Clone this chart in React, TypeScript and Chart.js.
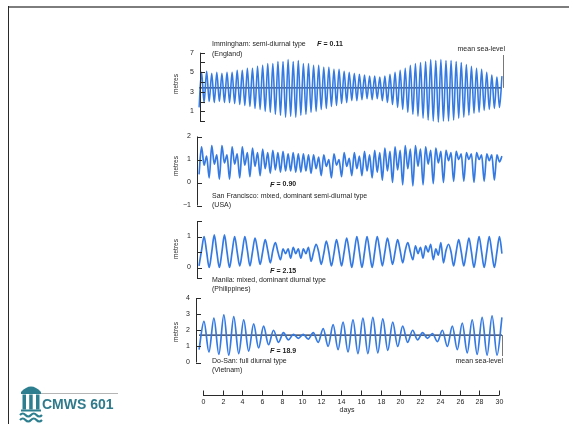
import React, { useEffect, useRef } from 'react';
import { Chart, registerables } from 'chart.js';

Chart.register(...registerables);

// ---------------- data ----------------
// Immingham: successive low / high waters (m)
const immLow = [
  1.4, 1.9, 2.0, 1.9, 2.0, 1.9, 1.9, 1.8, 1.7, 1.6, 1.5, 1.3, 1.2, 1.0, 0.9, 0.7, 0.6, 0.4, 0.5, 0.4,
  0.6, 0.7, 0.9, 1.0, 1.2, 1.3, 1.5, 1.6, 1.8, 1.9, 2.1, 2.1, 2.2, 2.3, 2.2, 2.3, 2.1, 1.9, 1.7, 1.4,
  1.2, 0.9, 0.7, 0.5, 0.3, 0.1, 0.0, -0.1, 0.0, 0.0, 0.1, 0.3, 0.4, 0.6, 0.8, 0.9, 1.1, 1.2, 1.3, 1.4,
];
const immHigh = [
  5.0, 5.1, 4.9, 5.0, 4.9, 5.0, 5.0, 5.2, 5.2, 5.4, 5.4, 5.6, 5.7, 5.9, 5.9, 6.1, 6.1, 6.3, 6.1, 6.2,
  5.9, 5.9, 5.7, 5.7, 5.5, 5.5, 5.3, 5.3, 5.1, 5.0, 4.9, 4.8, 4.7, 4.6, 4.6, 4.5, 4.6, 4.8, 5.0, 5.2,
  5.4, 5.7, 5.9, 6.0, 6.1, 6.3, 6.2, 6.3, 6.2, 6.2, 6.1, 6.0, 5.8, 5.6, 5.4, 5.3, 5.0, 4.7, 4.5, 4.6,
];
const immMean = 3.4;
const immTicks = [0, 1, 2, 3, 4, 5, 6, 7];
const immTickLabels = [1, 3, 5, 7];

// San Francisco: lower low, higher high, higher low, lower high per tidal day (m)
const sfLowerLow = [
  0.35, 0.2, 0.15, 0.15, 0.2, 0.25, 0.3, 0.4, 0.45, 0.5, 0.45, 0.4, 0.3, 0.2, 0.25,
  0.3, 0.3, 0.2, 0.1, 0.0, -0.1, -0.15, -0.1, -0.05, 0.0, 0.05, 0.05, 0.0, 0.05, 0.1,
];
const sfHigherHigh = [
  1.55, 1.6, 1.6, 1.55, 1.55, 1.5, 1.45, 1.4, 1.35, 1.3, 1.25, 1.2, 1.2, 1.25, 1.3,
  1.3, 1.35, 1.4, 1.5, 1.55, 1.6, 1.6, 1.55, 1.5, 1.4, 1.35, 1.3, 1.3, 1.25, 1.2,
];
const sfHigherLow = [
  0.75, 0.8, 0.85, 0.8, 0.75, 0.7, 0.6, 0.55, 0.5, 0.45, 0.5, 0.6, 0.7, 0.75, 0.7,
  0.6, 0.5, 0.45, 0.5, 0.55, 0.6, 0.7, 0.8, 0.85, 0.95, 1.0, 1.0, 1.0, 0.95, 0.9,
];
const sfLowerHigh = [
  1.15, 1.2, 1.2, 1.25, 1.3, 1.3, 1.3, 1.3, 1.25, 1.25, 1.2, 1.1, 1.0, 1.0, 1.05,
  1.15, 1.2, 1.3, 1.35, 1.4, 1.45, 1.45, 1.4, 1.35, 1.3, 1.25, 1.25, 1.2, 1.2, 1.15,
];
const sfTicks = [-1, 0, 1, 2];
const sfTickLabels = [-1, 0, 1, 2];

// Manila: four readings per tidal day (m)
const mnLowWater = [
  0.05, 0.0, 0.0, 0.0, 0.05, 0.05, 0.1, 0.15, 0.25, 0.3, 0.3, 0.2, 0.1, 0.05, 0.05,
  0.0, 0.0, 0.0, 0.05, 0.1, 0.15, 0.25, 0.3, 0.25, 0.15, 0.05, 0.05, 0.0, 0.0, 0.0,
];
const mnRising = [
  0.55, 0.5, 0.5, 0.5, 0.5, 0.5, 0.5, 0.55, 0.6, 0.65, 0.6, 0.5, 0.45, 0.45, 0.5,
  0.5, 0.5, 0.5, 0.5, 0.5, 0.55, 0.7, 0.7, 0.6, 0.55, 0.5, 0.5, 0.5, 0.5, 0.5,
];
const mnHighWater = [
  1.0, 1.05, 1.05, 1.0, 1.0, 0.95, 0.9, 0.8, 0.45, 0.45, 0.45, 0.75, 0.85, 0.9, 0.95,
  1.0, 1.0, 1.0, 0.95, 0.9, 0.8, 0.45, 0.5, 0.4, 0.75, 0.9, 0.95, 1.0, 1.0, 1.0,
];
const mnFalling = [
  0.5, 0.5, 0.5, 0.5, 0.55, 0.55, 0.55, 0.5, 0.6, 0.6, 0.65, 0.5, 0.5, 0.5, 0.5,
  0.5, 0.5, 0.55, 0.55, 0.55, 0.5, 0.65, 0.75, 0.8, 0.5, 0.5, 0.5, 0.5, 0.5, 0.45,
];
const mnTicks = [-0.35, 0, 0.5, 1, 1.5];
const mnTickLabels = [0, 1];

// Do-San: successive low / high waters (m)
const dsLow = [
  0.8, 0.65, 0.5, 0.45, 0.55, 0.7, 0.9, 1.1, 1.25, 1.4, 1.5, 1.45, 1.25, 1.0, 0.8, 0.65,
  0.55, 0.55, 0.6, 0.75, 1.0, 1.25, 1.4, 1.5, 1.3, 1.0, 0.8, 0.6, 0.5, 0.45, 0.45,
];
const dsHigh = [
  2.55, 2.75, 2.95, 2.85, 2.65, 2.4, 2.25, 2.0, 1.85, 1.75, 1.75, 1.85, 2.1, 2.35, 2.5, 2.65,
  2.75, 2.8, 2.7, 2.5, 2.25, 2.0, 1.85, 1.8, 2.0, 2.25, 2.45, 2.65, 2.8, 2.9, 2.8,
];
const dsMean = 1.7;
const dsTicks = [0, 1, 2, 3, 4];
const dsTickLabels = [0, 1, 2, 3, 4];

const dayTicks = [0, 2, 4, 6, 8, 10, 12, 14, 16, 18, 20, 22, 24, 26, 28, 30];

// ---------------- layout ----------------
const W = 569;
const H = 424;
const AREA = { left: 199, right: 502, top: 40, bottom: 400 };
const DAY0_PX = 203;
const DAY30_PX = 499;
const dayScale = (DAY30_PX - DAY0_PX) / 30;
const dayMin = -(DAY0_PX - AREA.left) / dayScale;
const dayMax = 30 + (AREA.right - DAY30_PX) / dayScale;

const PANELS = [
  { id: 'y1', vTop: 7, pTop: 52.7, vBot: 0, pBot: 121.1, axisX: 200, axisTop: 7, axisBot: 0, ticks: immTicks, labels: immTickLabels, metresY: 84 },
  { id: 'y2', vTop: 2, pTop: 136.5, vBot: -1, pBot: 205.5, axisX: 197, axisTop: 2, axisBot: -1, ticks: sfTicks, labels: sfTickLabels, metresY: 166 },
  { id: 'y3', vTop: 1, pTop: 236.5, vBot: 0, pBot: 267.5, axisX: 197, axisTop: 1.5, axisBot: -0.35, ticks: mnTicks, labels: mnTickLabels, metresY: 249 },
  { id: 'y4', vTop: 4, pTop: 298, vBot: 0, pBot: 362.5, axisX: 196, axisTop: 4, axisBot: 0, ticks: dsTicks, labels: dsTickLabels, metresY: 332 },
];

function yRange(p: any) {
  const s = (p.pBot - p.pTop) / (p.vTop - p.vBot);
  return { min: p.vBot - (AREA.bottom - p.pBot) / s, max: p.vTop + (p.pTop - AREA.top) / s };
}

const FONT = '"Liberation Sans", Arial, sans-serif';
const INK = '#1e1e1e';
const CURVE = 'rgb(52,122,226)';

const figPlugin = {
  id: 'figDecor',
  afterDatasetsDraw(chart: any) {
    const ctx: CanvasRenderingContext2D = chart.ctx;
    ctx.save();
    const seg = (x1: number, y1: number, x2: number, y2: number) => {
      ctx.beginPath();
      ctx.moveTo(x1, y1);
      ctx.lineTo(x2, y2);
      ctx.stroke();
    };
    ctx.strokeStyle = '#2a2a2a';
    ctx.fillStyle = INK;
    ctx.lineWidth = 1;

    // vertical axes
    PANELS.forEach((p) => {
      const sc = chart.scales[p.id];
      const yT = sc.getPixelForValue(p.axisTop);
      const yB = sc.getPixelForValue(p.axisBot);
      seg(p.axisX + 0.5, yT, p.axisX + 0.5, yB);
      p.ticks.forEach((t: number) => {
        const y = Math.round(sc.getPixelForValue(t)) + 0.5;
        seg(p.axisX, y, p.axisX + 5, y);
      });
      ctx.font = `7px ${FONT}`;
      ctx.textAlign = 'right';
      ctx.textBaseline = 'middle';
      p.labels.forEach((t: number) => {
        const y = sc.getPixelForValue(t);
        ctx.fillText(t < 0 ? '\u2212' + Math.abs(t) : String(t), p.axisX - 6, y);
      });
      ctx.save();
      ctx.translate(176, p.metresY);
      ctx.rotate(-Math.PI / 2);
      ctx.textAlign = 'center';
      ctx.font = `6.5px ${FONT}`;
      ctx.fillText('metres', 0, 0);
      ctx.restore();
    });

    // days axis
    const xd = chart.scales.xd;
    const axY = 395.5;
    seg(xd.getPixelForValue(0), axY, xd.getPixelForValue(30), axY);
    ctx.font = `7px ${FONT}`;
    ctx.textAlign = 'center';
    ctx.textBaseline = 'middle';
    dayTicks.forEach((d) => {
      const x = Math.round(xd.getPixelForValue(d)) + 0.5;
      seg(x, axY - 5, x, axY);
      ctx.fillText(String(d), x, 402);
    });
    ctx.fillText('days', 347, 410);

    // annotations
    const txt = (s: string, x: number, y: number, align: CanvasTextAlign = 'left') => {
      ctx.font = `7px ${FONT}`;
      ctx.textAlign = align;
      ctx.fillText(s, x, y);
    };
    const fTxt = (val: string, x: number, y: number) => {
      ctx.textAlign = 'left';
      ctx.font = `italic bold 7.5px ${FONT}`;
      ctx.fillText('F', x, y);
      const w = ctx.measureText('F').width;
      ctx.font = `bold 7px ${FONT}`;
      ctx.fillText(' = ' + val, x + w, y);
    };
    txt('Immingham: semi-diurnal type', 212, 44);
    fTxt('0.11', 317, 44);
    txt('(England)', 212, 54);
    txt('mean sea-level', 505, 49, 'right');

    fTxt('0.90', 270, 184.5);
    txt('San Francisco: mixed, dominant semi-diurnal type', 212, 196);
    txt('(USA)', 212, 205.5);

    fTxt('2.15', 270, 271);
    txt('Manila: mixed, dominant diurnal type', 212, 280);
    txt('(Philippines)', 212, 289);

    fTxt('18.9', 270, 351);
    txt('Do-San: full diurnal type', 212, 361);
    txt('(Vietnam)', 212, 370);
    txt('mean sea-level', 503, 361, 'right');

    // leader lines to mean sea-level
    ctx.strokeStyle = '#555';
    ctx.lineWidth = 0.8;
    const y1 = chart.scales.y1.getPixelForValue(immMean);
    seg(503.5, 55, 503.5, y1);
    const y4 = chart.scales.y4.getPixelForValue(dsMean);
    seg(502.5, y4, 502.5, 356);
    ctx.restore();
  },
};

const immSeries = immLow.flatMap((l, i) => [l, immHigh[i]]);
const sfSeries = sfLowerLow.flatMap((l, i) => [l, sfHigherHigh[i], sfHigherLow[i], sfLowerHigh[i]]);
const mnSeries = mnLowWater.flatMap((l, i) => [l, mnRising[i], mnHighWater[i], mnFalling[i]]);
const dsSeries = dsLow.flatMap((l, i) => [l, dsHigh[i]]);

export default function App() {
  const ref = useRef<HTMLCanvasElement>(null);
  useEffect(() => {
    const canvas = ref.current;
    if (!canvas) return;
    const scales: any = {
      xd: { type: 'linear', display: false, min: dayMin, max: dayMax },
      xImm: { type: 'category', display: false, offset: false, labels: immSeries.map((_, i) => 'i' + i) },
      xSf: { type: 'category', display: false, offset: false, labels: sfSeries.map((_, i) => 's' + i) },
      xMn: { type: 'category', display: false, offset: false, labels: mnSeries.map((_, i) => 'm' + i) },
      xDs: { type: 'category', display: false, offset: false, labels: dsSeries.map((_, i) => 'd' + i) },
    };
    PANELS.forEach((p) => {
      const r = yRange(p);
      scales[p.id] = { type: 'linear', display: false, min: r.min, max: r.max };
    });
    const curve = (data: number[], xAxisID: string, yAxisID: string, width: number) => ({
      data,
      xAxisID,
      yAxisID,
      borderColor: CURVE,
      borderWidth: width,
      pointRadius: 0,
      fill: false,
      cubicInterpolationMode: 'monotone',
    });
    const meanLine = (v: number, yAxisID: string) => ({
      data: [
        { x: dayMin, y: v },
        { x: dayMax, y: v },
      ],
      xAxisID: 'xd',
      yAxisID,
      borderColor: '#1b2740',
      borderWidth: 1.4,
      pointRadius: 0,
      fill: false,
    });
    const chart = new Chart(canvas, {
      type: 'line',
      data: {
        datasets: [
          curve(immSeries, 'xImm', 'y1', 1.6),
          meanLine(immMean, 'y1'),
          curve(sfSeries, 'xSf', 'y2', 1.7),
          curve(mnSeries, 'xMn', 'y3', 1.7),
          curve(dsSeries, 'xDs', 'y4', 1.7),
          meanLine(dsMean, 'y4'),
        ] as any,
      },
      options: {
        responsive: false,
        animation: false,
        events: [],
        layout: {
          padding: { left: AREA.left, right: W - AREA.right, top: AREA.top, bottom: H - AREA.bottom },
        },
        plugins: { legend: { display: false }, tooltip: { enabled: false } },
        scales,
      } as any,
      plugins: [figPlugin],
    });
    return () => chart.destroy();
  }, []);

  return (
    <div style={{ position: 'fixed', left: 0, top: 0, width: W, height: H, background: '#fff', overflow: 'hidden' }}>
      <canvas ref={ref} width={W} height={H} style={{ position: 'absolute', left: 0, top: 0, width: W, height: H }} />
      <div style={{ position: 'absolute', left: 8, top: 6, width: W - 8, height: 2, background: '#7d7d7d' }} />
      <div style={{ position: 'absolute', left: 8, top: 6, width: 1, height: H - 6, background: '#2a2a2a' }} />
      <div style={{ position: 'absolute', left: 40, top: 393, width: 78, height: 1, background: '#b5b5b5' }} />
      <svg style={{ position: 'absolute', left: 19, top: 382 }} width={24} height={41} viewBox="0 0 24 41">
        <g fill="#2d7f90" stroke="none">
          <path d="M2 10 Q12 -1 22 10 Z" />
          <rect x="2" y="10" width="20" height="2" />
          <rect x="3.5" y="12.5" width="3.5" height="15" />
          <rect x="10.2" y="12.5" width="3.5" height="15" />
          <rect x="17" y="12.5" width="3.5" height="15" />
          <rect x="2" y="27.5" width="20" height="2" />
        </g>
        <g fill="none" stroke="#2d7f90" strokeWidth="2.2">
          <path d="M1 33 q2.8 -3 5.5 0 t5.5 0 t5.5 0 t5.5 0" />
          <path d="M1 38 q2.8 -3 5.5 0 t5.5 0 t5.5 0 t5.5 0" />
        </g>
      </svg>
      <div
        style={{
          position: 'absolute',
          left: 42,
          top: 397,
          font: `bold 14px ${FONT}`,
          color: '#2f7b8c',
          lineHeight: '15px',
          whiteSpace: 'nowrap',
        }}
      >
        CMWS 601
      </div>
    </div>
  );
}
